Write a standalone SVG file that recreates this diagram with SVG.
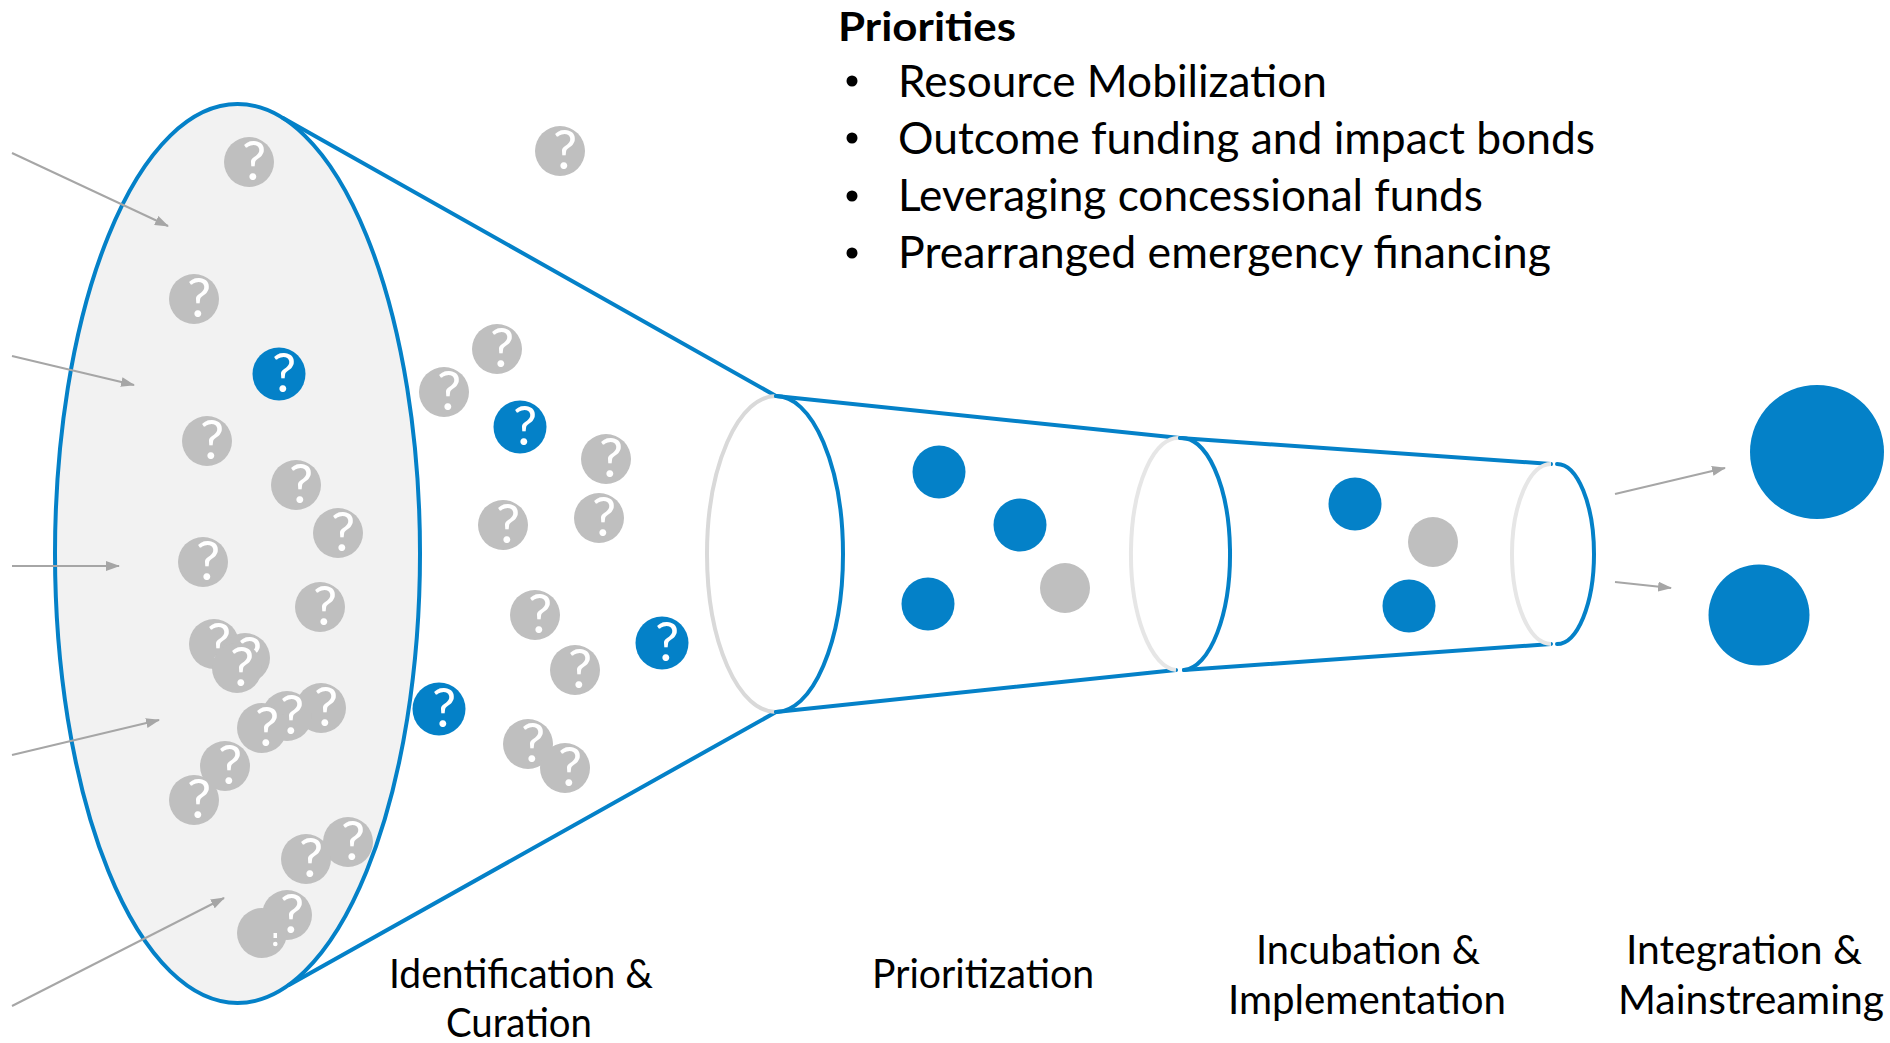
<svg xmlns="http://www.w3.org/2000/svg" xmlns:xlink="http://www.w3.org/1999/xlink" width="1890" height="1043" viewBox="0 0 1890 1043">
  <style>
    .funnel { fill: none; stroke: #0481c8; stroke-width: 4; stroke-linecap: round; }
    .ringback1 { fill: none; stroke: #d9d9d9; stroke-width: 4; }
    .ringback { fill: none; stroke: #e6e6e6; stroke-width: 4; }
    .feed { fill: none; stroke: #a6a6a6; stroke-width: 2; marker-end: url(#head); }
    .q { font-family: Lato, "Open Sans", "DejaVu Sans", sans-serif; font-size: 54px; fill: #ffffff; text-anchor: middle; }
    .gray { fill: #bfbfbf; }
    .blue { fill: #0481c8; }
    .title { font-family: Lato, "Liberation Sans", sans-serif; font-weight: bold; font-size: 40px; fill: #000; }
    .item { font-family: Lato, "Liberation Sans", sans-serif; font-size: 44px; fill: #000; }
    .stage { font-family: Lato, "Liberation Sans", sans-serif; font-size: 40px; fill: #000; text-anchor: middle; }
  </style>
  <defs>
    <marker id="head" markerUnits="userSpaceOnUse" markerWidth="14" markerHeight="10" refX="13" refY="5" orient="auto">
      <path d="M0,0 L14,5 L0,10 z" fill="#a6a6a6"/>
    </marker>
    <g id="qg"><circle r="25" class="gray"/><text x="5" y="18" class="q">?</text></g>
    <g id="qb"><circle r="26.5" class="blue"/><text x="5" y="18" class="q">?</text></g>
  </defs>

  <!-- wide mouth of the funnel -->
  <g id="mouth">
    <ellipse cx="237.5" cy="553.5" rx="182.5" ry="449.5" fill="#f2f2f2" stroke="#0481c8" stroke-width="4"/>
  </g>

  <!-- funnel body and rings -->
  <g id="funnel">
    <line class="funnel" x1="283" y1="118" x2="776" y2="396"/>
    <line class="funnel" x1="289" y1="985" x2="776" y2="712"/>
    <path class="ringback1" d="M776,396 A69,158 0 0 0 776,712"/>
    <path class="funnel" d="M776,396 A67,158 0 0 1 776,712"/>
    <line class="funnel" x1="776" y1="396" x2="1180" y2="438"/>
    <line class="funnel" x1="776" y1="712" x2="1176" y2="670"/>
    <path class="ringback" d="M1180,438 A47,116 0 0 0 1176,670"/>
    <path class="funnel" d="M1180,438 A48,116 0 0 1 1184,670"/>
    <line class="funnel" x1="1184" y1="670" x2="1551" y2="644"/>
    <line class="funnel" x1="1180" y1="438" x2="1551" y2="464"/>
    <path class="ringback" d="M1551,464 A39,90 0 0 0 1551,644"/>
    <path class="funnel" d="M1557,464 A37,90 0 0 1 1557,644"/>
  </g>

  <!-- incoming and outgoing arrows -->
  <g id="connectors">
    <line class="feed" x1="12" y1="153" x2="168" y2="226"/>
    <line class="feed" x1="12" y1="356" x2="134" y2="385"/>
    <line class="feed" x1="12" y1="566" x2="119" y2="566"/>
    <line class="feed" x1="12" y1="755" x2="159" y2="720"/>
    <line class="feed" x1="12" y1="1006" x2="224" y2="898"/>
    <line class="feed" x1="1615" y1="494" x2="1725" y2="468"/>
    <line class="feed" x1="1615" y1="582" x2="1671" y2="588"/>
  </g>

  <!-- ideas gathered in the mouth -->
  <g id="ideas-mouth">
    <g id="i01"><use xlink:href="#qg" x="249" y="162"/></g>
    <g id="i02"><use xlink:href="#qg" x="194" y="299"/></g>
    <g id="i03"><use xlink:href="#qb" x="279" y="374"/></g>
    <g id="i04"><use xlink:href="#qg" x="207" y="441"/></g>
    <g id="i05"><use xlink:href="#qg" x="296" y="485"/></g>
    <g id="i06"><use xlink:href="#qg" x="338" y="533"/></g>
    <g id="i07"><use xlink:href="#qg" x="203" y="562"/></g>
    <g id="i08"><use xlink:href="#qg" x="320" y="607"/></g>
    <g id="i09"><use xlink:href="#qg" x="214" y="644"/></g>
    <g id="i10"><use xlink:href="#qg" x="245" y="658"/></g>
    <g id="i11"><use xlink:href="#qg" x="237" y="668"/></g>
    <g id="i12"><use xlink:href="#qg" x="321" y="708"/></g>
    <g id="i13"><use xlink:href="#qg" x="287" y="716"/></g>
    <g id="i14"><use xlink:href="#qg" x="262" y="728"/></g>
    <g id="i15"><use xlink:href="#qg" x="225" y="766"/></g>
    <g id="i16"><use xlink:href="#qg" x="194" y="800"/></g>
    <g id="i17"><use xlink:href="#qg" x="348" y="842"/></g>
    <g id="i18"><use xlink:href="#qg" x="306" y="859"/></g>
    <g id="i19"><use xlink:href="#qg" x="287" y="915"/></g>
    <g id="i20">
      <circle cx="262" cy="933" r="25" class="gray"/>
      <rect x="273.5" y="933" width="3.5" height="5" fill="#fff"/>
      <circle cx="275.3" cy="944" r="2.3" fill="#fff"/>
    </g>
  </g>

  <!-- ideas being curated -->
  <g id="ideas-curation">
    <g id="i21"><use xlink:href="#qg" x="560" y="151"/></g>
    <g id="i22"><use xlink:href="#qg" x="497" y="349"/></g>
    <g id="i23"><use xlink:href="#qg" x="444" y="392"/></g>
    <g id="i24"><use xlink:href="#qb" x="520" y="427"/></g>
    <g id="i25"><use xlink:href="#qg" x="606" y="459"/></g>
    <g id="i26"><use xlink:href="#qg" x="503" y="525"/></g>
    <g id="i27"><use xlink:href="#qg" x="599" y="518"/></g>
    <g id="i28"><use xlink:href="#qg" x="535" y="615"/></g>
    <g id="i29"><use xlink:href="#qg" x="575" y="670"/></g>
    <g id="i30"><use xlink:href="#qb" x="662" y="643"/></g>
    <g id="i31"><use xlink:href="#qb" x="439" y="709"/></g>
    <g id="i32"><use xlink:href="#qg" x="528" y="744"/></g>
    <g id="i33"><use xlink:href="#qg" x="565" y="768"/></g>
  </g>

  <!-- prioritized items -->
  <g id="ideas-prioritization">
    <circle id="p1" cx="939" cy="472" r="26.5" class="blue"/>
    <circle id="p2" cx="1020" cy="525" r="26.5" class="blue"/>
    <circle id="p3" cx="928" cy="604" r="26.5" class="blue"/>
    <circle id="p4" cx="1065" cy="588" r="25" class="gray"/>
  </g>

  <!-- incubated items -->
  <g id="ideas-incubation">
    <circle id="n1" cx="1355" cy="504" r="26.5" class="blue"/>
    <circle id="n2" cx="1433" cy="542" r="25" class="gray"/>
    <circle id="n3" cx="1409" cy="606" r="26.5" class="blue"/>
  </g>

  <!-- mainstreamed results -->
  <g id="results">
    <circle id="r1" cx="1817" cy="452" r="67" class="blue"/>
    <circle id="r2" cx="1759" cy="615" r="50.5" class="blue"/>
  </g>

  <!-- priorities list -->
  <g id="priorities">
    <text class="title" x="838" y="41" textLength="178" lengthAdjust="spacingAndGlyphs">Priorities</text>
    <circle cx="852" cy="81" r="5.5" fill="#000"/>
    <circle cx="852" cy="138" r="5.5" fill="#000"/>
    <circle cx="852" cy="196" r="5.5" fill="#000"/>
    <circle cx="852" cy="253" r="5.5" fill="#000"/>
    <text class="item" x="898" y="97" textLength="429" lengthAdjust="spacingAndGlyphs">Resource Mobilization</text>
    <text class="item" x="898" y="154" textLength="697" lengthAdjust="spacingAndGlyphs">Outcome funding and impact bonds</text>
    <text class="item" x="898" y="211" textLength="585" lengthAdjust="spacingAndGlyphs">Leveraging concessional funds</text>
    <text class="item" x="898" y="268" textLength="653" lengthAdjust="spacingAndGlyphs">Prearranged emergency financing</text>
  </g>

  <!-- stage labels -->
  <g id="stage-labels">
    <text class="stage" x="521" y="988" textLength="264" lengthAdjust="spacingAndGlyphs">Identification &amp;</text>
    <text class="stage" x="519" y="1037" textLength="146" lengthAdjust="spacingAndGlyphs">Curation</text>
    <text class="stage" x="983" y="988" textLength="222" lengthAdjust="spacingAndGlyphs">Prioritization</text>
    <text class="stage" x="1368" y="964" textLength="224" lengthAdjust="spacingAndGlyphs">Incubation &amp;</text>
    <text class="stage" x="1367" y="1014" textLength="278" lengthAdjust="spacingAndGlyphs">Implementation</text>
    <text class="stage" x="1744" y="964" textLength="236" lengthAdjust="spacingAndGlyphs">Integration &amp;</text>
    <text class="stage" x="1751" y="1014" textLength="266" lengthAdjust="spacingAndGlyphs">Mainstreaming</text>
  </g>
</svg>
